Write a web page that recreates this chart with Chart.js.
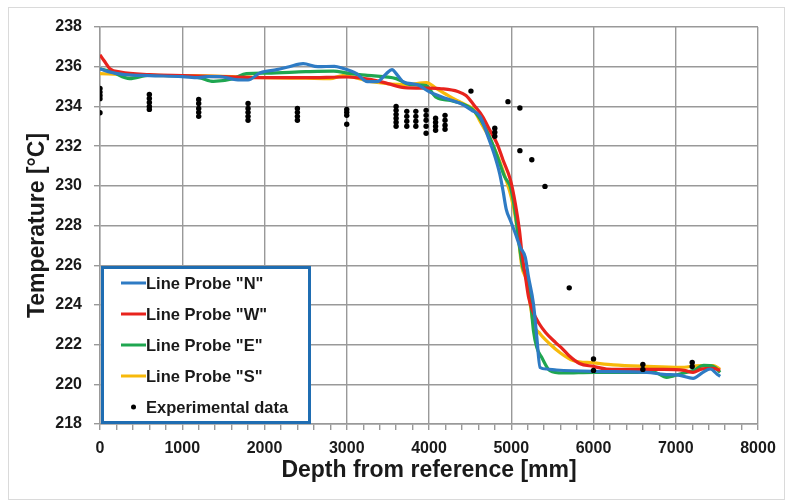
<!DOCTYPE html>
<html>
<head>
<meta charset="utf-8">
<script src="https://cdn.jsdelivr.net/npm/chart.js@4/dist/chart.umd.min.js"></script>
<style>
  html, body { margin: 0; padding: 0; background: #ffffff; }
  #wrap { position: relative; width: 787px; height: 501px; }
</style>
</head>
<body>
<div id="wrap"><canvas id="c" width="787" height="501"></canvas></div>
<script>
// ---------- data ----------
const probeNDepth = [0,100,300,600,1000,1200,1300,1450,1650,1800,1950,2150,2300,2470,2650,2850,2950,3120,3250,3370,3480,3550,3620,3690,3850,4010,4210,4380,4520,4620,4720,4800,4860,4900,4940,4990,5050,5110,5170,5210,5270,5310,5350,5430,5550,6000,6650,6850,7050,7210,7330,7420,7500,7540];
const probeNTemp  = [235.9,235.75,235.6,235.55,235.5,235.45,235.5,235.5,235.35,235.33,235.7,235.85,236.0,236.15,236.0,236.02,235.92,235.65,235.25,235.25,235.65,235.85,235.55,235.23,235.1,234.72,234.4,234.15,233.8,233.5,232.45,231.5,230.6,229.75,228.8,228.25,227.6,226.9,226.4,225.4,224.05,222.4,220.85,220.77,220.72,220.65,220.6,220.5,220.45,220.3,220.6,220.77,220.52,220.4];

const probeWDepth = [0,50,120,250,600,1000,1500,2000,2500,3000,3300,3500,3700,4000,4150,4350,4450,4550,4650,4740,4830,4900,4990,5050,5100,5130,5180,5210,5260,5340,5420,5540,5620,5700,5830,6000,6160,6500,6850,7100,7210,7300,7450,7540];
const probeWTemp  = [236.6,236.3,235.9,235.73,235.6,235.55,235.5,235.45,235.45,235.48,235.35,235.15,234.95,234.92,234.89,234.75,234.55,234.05,233.5,232.8,232.1,231.3,230.3,229.1,227.75,226.6,225.2,224.4,223.7,223.05,222.6,222.1,221.8,221.45,221.05,220.9,220.77,220.75,220.75,220.7,220.6,220.75,220.8,220.7];

const probeEDepth = [0,150,360,600,1200,1380,1620,1780,2030,2500,2840,3000,3250,3600,3770,3970,4010,4090,4260,4450,4540,4620,4720,4820,4920,4990,5050,5090,5140,5190,5230,5270,5310,5370,5470,5630,6000,6480,6730,6890,7050,7210,7340,7460,7540];
const probeETemp  = [235.9,235.73,235.4,235.57,235.45,235.26,235.4,235.65,235.68,235.75,235.78,235.68,235.56,235.4,235.1,235.05,234.85,234.45,234.3,234.05,233.8,233.38,232.62,231.6,230.45,229.93,228.6,227.25,225.9,225.4,224.4,222.7,221.86,221.36,220.69,220.57,220.6,220.6,220.62,220.35,220.52,220.69,220.95,220.9,220.6];

const probeSDepth = [0,300,600,1000,1500,2000,2500,2800,2950,3100,3320,3730,3970,4090,4250,4340,4460,4540,4620,4740,4840,4940,5000,5050,5090,5130,5190,5230,5270,5350,5470,5590,5750,6000,6240,6650,7050,7300,7460,7540];
const probeSTemp  = [235.65,235.6,235.56,235.55,235.52,235.45,235.42,235.4,235.55,235.45,235.23,235.1,235.2,234.9,234.5,234.3,234.05,233.85,233.25,232.37,231.45,230.27,229.43,228.42,227.24,225.9,225.2,224.05,223.05,222.55,222.03,221.6,221.2,221.08,220.98,220.9,220.85,220.94,220.94,220.75];

const expDepth = [0,0,0,0,0, 600,600,600,600,600, 1200,1200,1200,1200,1200, 1800,1800,1800,1800,1800, 2400,2400,2400,2400, 3000,3000,3000,3000, 3600,3600,3600,3600,3600,3600, 3730,3730,3730,3730, 3840,3840,3840,3840, 3965,3965,3965,3965,3965, 4080,4080,4080,4080, 4195,4195,4195,4195, 4510, 4800,4800,4800, 4960, 5105,5105, 5250, 5410, 5705, 6000,6000, 6600,6600, 7200,7200];
const expTemp  = [234.9,234.72,234.55,234.39,233.68, 234.6,234.4,234.2,234.0,233.85, 234.35,234.15,233.9,233.7,233.5, 234.15,233.9,233.7,233.5,233.3, 233.9,233.7,233.5,233.3, 233.85,233.7,233.55,233.1, 234.0,233.8,233.6,233.4,233.2,233.0, 233.75,233.5,233.25,233.0, 233.75,233.5,233.25,233.0, 233.8,233.55,233.3,233.0,232.65, 233.4,233.2,233.0,232.8, 233.55,233.3,233.05,232.85, 234.77, 232.9,232.7,232.5, 234.24, 233.92,231.77, 231.31, 229.97, 224.86, 221.28,220.7, 221.0,220.75, 221.1,220.9];

const seriesNames = ['Line Probe "N"', 'Line Probe "W"', 'Line Probe "E"', 'Line Probe "S"', 'Experimental data'];
const seriesColors = ['#2E7BC4', '#E8231D', '#1FA650', '#F7B90A', '#000000'];
const xTitle = 'Depth from reference [mm]';
const yTitle = 'Temperature [°C]';

// ---------- build chart ----------
const pts = (xs, ys) => xs.map((x, i) => ({x: x, y: ys[i]}));
const FONT = "'Liberation Sans', Arial, sans-serif";
const GRID = '#999999';

function lineSet(i, xs, ys) {
  return {
    label: seriesNames[i], data: pts(xs, ys), showLine: true,
    borderColor: seriesColors[i], backgroundColor: seriesColors[i],
    borderWidth: 3.2, pointRadius: 0, pointHoverRadius: 0,
    cubicInterpolationMode: 'monotone', order: 2
  };
}

const frame = {
  id: 'frame',
  beforeDraw(chart) {
    const ctx = chart.ctx;
    ctx.save();
    ctx.fillStyle = '#ffffff';
    ctx.fillRect(0, 0, chart.width, chart.height);
    ctx.strokeStyle = '#dadada';
    ctx.lineWidth = 1;
    ctx.strokeRect(8.5, 7.5, 776, 492);
    ctx.restore();
  }
};

const boxLegend = {
  id: 'boxLegend',
  afterDraw(chart) {
    const ctx = chart.ctx;
    const a = chart.chartArea;
    const x0 = a.left + 1, y1 = a.bottom, w = 210, h = 158;
    const y0 = y1 - h;
    ctx.save();
    ctx.fillStyle = '#ffffff';
    ctx.fillRect(x0, y0, w, h);
    ctx.strokeStyle = '#1F6DB2';
    ctx.lineWidth = 3;
    ctx.strokeRect(x0 + 1.5, y0 + 1.5, w - 3, h - 3);
    ctx.font = 'bold 16.5px ' + FONT;
    ctx.textBaseline = 'middle';
    ctx.textAlign = 'left';
    const rowY = [17, 48, 79, 110, 141];
    for (let i = 0; i < 5; i++) {
      const yy = y0 + rowY[i];
      if (i < 4) {
        ctx.strokeStyle = seriesColors[i];
        ctx.lineWidth = 3;
        ctx.beginPath();
        ctx.moveTo(x0 + 20, yy);
        ctx.lineTo(x0 + 45, yy);
        ctx.stroke();
      } else {
        ctx.fillStyle = '#000';
        ctx.beginPath();
        ctx.arc(x0 + 32.5, yy, 2.5, 0, Math.PI * 2);
        ctx.fill();
      }
      ctx.fillStyle = '#1a1a1a';
      ctx.fillText(seriesNames[i], x0 + 45, yy + 1);
    }
    ctx.restore();
  }
};

new Chart(document.getElementById('c'), {
  type: 'scatter',
  data: {
    datasets: [
      lineSet(0, probeNDepth, probeNTemp),
      lineSet(1, probeWDepth, probeWTemp),
      lineSet(2, probeEDepth, probeETemp),
      lineSet(3, probeSDepth, probeSTemp),
      {
        label: seriesNames[4], data: pts(expDepth, expTemp), showLine: false,
        backgroundColor: '#000', borderColor: '#000', pointRadius: 2.7, pointBorderWidth: 0,
        order: 1
      }
    ]
  },
  options: {
    responsive: false,
    animation: false,
    devicePixelRatio: 1,
    layout: { padding: { top: 27, right: 29, bottom: 0, left: 0 } },
    plugins: { legend: { display: false }, tooltip: { enabled: false } },
    scales: {
      x: {
        type: 'linear', min: 0, max: 8000,
        afterFit: s => { s.height = 77; },
        ticks: {
          stepSize: 200, autoSkip: false, maxRotation: 0, padding: 9,
          color: '#1a1a1a', font: { family: FONT, size: 16, weight: 'bold' },
          callback: v => (v % 1000 === 0 ? String(v) : '')
        },
        grid: {
          color: c => (c.tick && c.tick.value % 1000 === 0 ? GRID : 'rgba(0,0,0,0)'),
          tickColor: GRID, lineWidth: 1.4, tickLength: 6
        },
        border: { color: GRID, width: 1.4 },
        title: {
          display: true, text: xTitle, color: '#1a1a1a',
          font: { family: FONT, size: 23, weight: 'bold' }, padding: { top: 0, bottom: 17 }
        }
      },
      y: {
        type: 'linear', min: 218, max: 238,
        afterFit: s => { s.width = 100; },
        ticks: {
          stepSize: 2, padding: 12, color: '#1a1a1a',
          font: { family: FONT, size: 16, weight: 'bold' }
        },
        grid: { color: GRID, lineWidth: 1.4, tickLength: 6 },
        border: { color: GRID, width: 1.4 },
        title: {
          display: true, text: yTitle, color: '#1a1a1a',
          font: { family: FONT, size: 23, weight: 'bold' }, padding: { top: 24, bottom: 0 }
        }
      }
    }
  },
  plugins: [frame, boxLegend]
});
</script>
</body>
</html>
